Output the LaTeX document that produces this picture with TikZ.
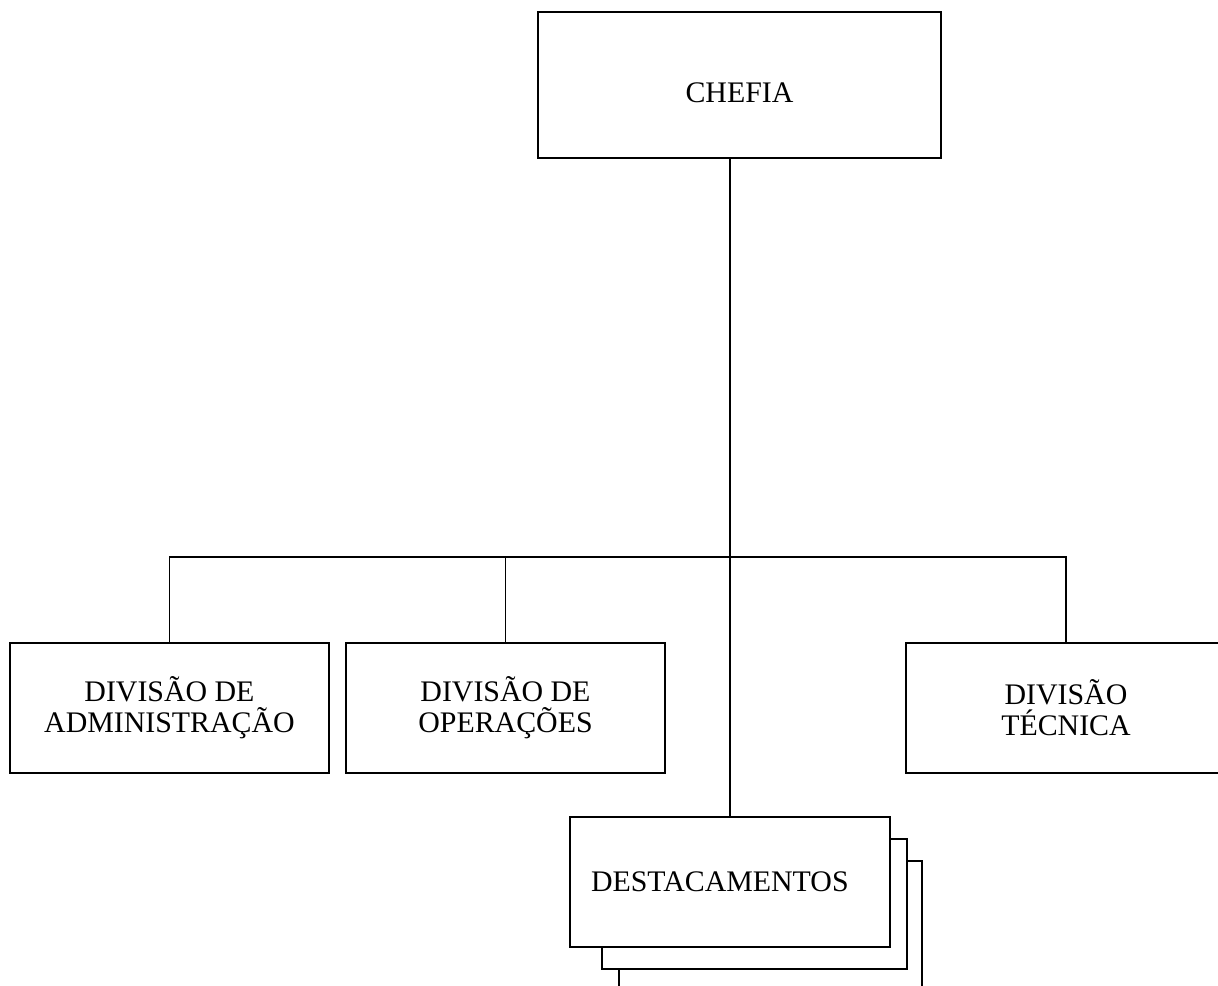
\documentclass[tikz,border=0pt]{standalone}
\usepackage{fontspec}
\setmainfont{Liberation Serif}
\usepackage{tikz}
\usetikzlibrary{positioning, calc}
\tikzset{
  unit/.style={rectangle, draw=black, fill=white, line width=0.8pt,
               minimum width=6.38cm, minimum height=2.6cm, align=center,
               font=\fontsize{17}{17.5}\selectfont},
  card/.style={rectangle, draw=black, fill=white, line width=0.8pt,
               minimum height=2.6cm},
  link/.style={draw=black, line width=0.8pt},
}

\begin{document}
\begin{tikzpicture}[x=0.02cm, y=-0.02cm]
  \clip (0,0) rectangle (1218,985);
  \fill[white] (0,0) rectangle (1218,985);

  \node[unit, minimum width=8.06cm, minimum height=2.92cm,
        text height=0.68cm, text depth=0cm] (chefia) at (739.5,85) {CHEFIA};

  \node[unit] (adm) at (169.5,708) {DIVISÃO DE\\ADMINISTRAÇÃO};
  \node[unit] (ope) at (505.5,708) {DIVISÃO DE\\OPERAÇÕES};
  \node[unit, minimum width=6.4cm] (tec) at (1066,708) {DIVISÃO\\TÉCNICA};

  % stacked cards behind destacamentos
  \node[card, minimum width=6.06cm] (destacC) at (770.5,926) {};
  \node[card, minimum width=6.1cm] (destacB) at (754.5,904) {};
  \node[unit, minimum width=6.4cm, inner xsep=0.42cm, text width=5.56cm,
        align=left] (destac) at (730,882) {DESTACAMENTOS};

  \coordinate (bus) at (731,557);

  \draw[link] (destac.north) -- (destac.north |- chefia.south);
  \draw[link] (adm.north) |- (bus) -| (tec.north);
  \draw[link] (ope.north) -- (ope.north |- bus);
\end{tikzpicture}
\end{document}
